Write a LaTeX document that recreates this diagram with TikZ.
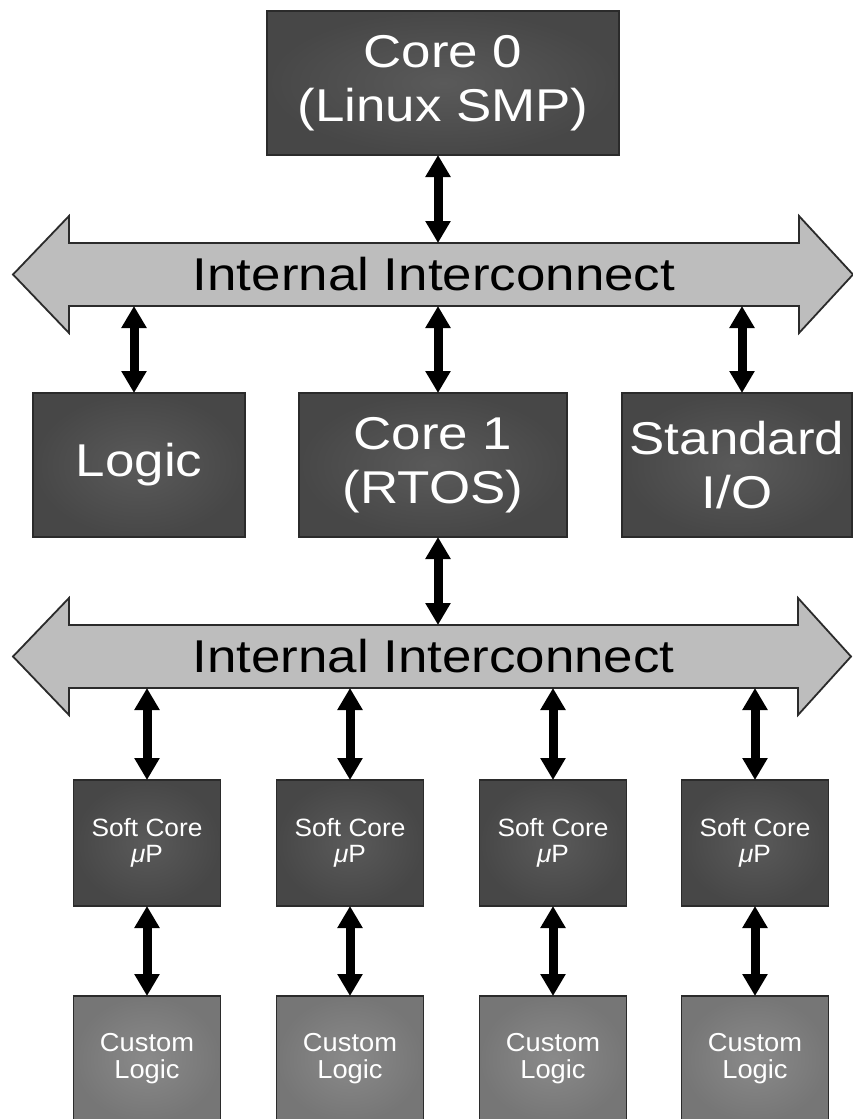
\documentclass[tikz,border=0pt]{standalone}
\usepackage{fontspec}
\setmainfont{Liberation Sans}
\newfontfamily\bigfont[FakeStretch=1.15]{Liberation Sans}
\newfontfamily\smallfont[FakeStretch=1.05]{Liberation Sans}
\usetikzlibrary{arrows.meta,calc,backgrounds}

\definecolor{boxin}{HTML}{5A5A5A}
\definecolor{boxout}{HTML}{474747}
\definecolor{custin}{HTML}{8A8A8A}
\definecolor{custout}{HTML}{767676}
\definecolor{edge}{HTML}{2B2B2B}
\definecolor{busgray}{HTML}{BDBDBD}

\tikzset{
  darkbox/.style={rectangle, draw=edge, line width=1.6pt, inner color=boxin, outer color=boxout,
    text=white, align=center, outer sep=0pt, font=\bigfont\fontsize{46}{54}\selectfont},
  softbox/.style={darkbox, minimum width=147pt, minimum height=126pt,
    font=\smallfont\fontsize{25}{25.5}\selectfont},
  custbox/.style={softbox, inner color=custin, outer color=custout,
    font=\smallfont\fontsize{26}{27}\selectfont},
  buslabel/.style={rectangle, draw=none, outer sep=0pt, inner sep=0pt,
    minimum width=729pt, minimum height=63pt, text=black,
    font=\bigfont\fontsize{46}{54}\selectfont},
  busbody/.style={fill=busgray, draw=edge, line width=1.8pt, line join=miter},
  link/.style={line width=9pt, draw=black,
    {Triangle[width=24pt,length=22pt]}-{Triangle[width=24pt,length=22pt]}},
}

\begin{document}
\begin{tikzpicture}[x=1pt,y=-1pt]
  \useasboundingbox (0,0) rectangle (853,1119);
  \clip (0,0) rectangle (853,1119);

  % top level: application core
  \node[darkbox, minimum width=352pt, minimum height=144pt] (core0) at (443,83) {Core 0\\(Linux SMP)};

  % first interconnect
  \node[buslabel, minimum width=730pt] (bus1) at (434,274.5) {Internal Interconnect};

  % middle row
  \node[darkbox, minimum width=212pt, minimum height=144pt] (logic) at (139,465) {Logic};
  \node[darkbox, minimum width=268pt, minimum height=144pt] (core1) at (433,465) {Core 1\\(RTOS)};
  \node[darkbox, minimum width=230pt, minimum height=144pt] (stdio) at (737,465) {Standard\\I/O};

  % second interconnect
  \node[buslabel] (bus2) at (433.5,656.5) {Internal Interconnect};

  % soft processors and their custom logic
  \foreach \i/\x in {1/147, 2/350, 3/553, 4/755} {
    \node[softbox] (sc\i) at (\x,843) {Soft Core\\{\itshape μ}P};
    \node[custbox] (cl\i) at (\x,1059) {Custom\\Logic};
  }

  % white page, then the bus bodies as double-headed block arrows behind their labels
  \begin{scope}[on background layer]
    \fill[white] (0,0) rectangle (853,1119);
    \foreach \b/\r in {bus1/54, bus2/53} {
      \path[busbody] (\b.north west) -- ++(0,-27) -- ($(\b.west)+(-56,0)$)
        -- ($(\b.south west)+(0,27)$) -- (\b.south west) -- (\b.south east)
        -- ++(0,27) -- ($(\b.east)+(\r,0)$) -- ($(\b.north east)+(0,-27)$)
        -- (\b.north east) -- cycle;
    }
  \end{scope}

  % connectors
  \coordinate (spine) at (438,0);
  \coordinate (leftdrop) at (134,0);
  \coordinate (rightdrop) at (742,0);
  \draw[link] (core0.south -| spine) -- (bus1.north -| spine);
  \draw[link] (bus1.south -| leftdrop) -- (logic.north -| leftdrop);
  \draw[link] (bus1.south -| spine) -- (core1.north -| spine);
  \draw[link] (bus1.south -| rightdrop) -- (stdio.north -| rightdrop);
  \draw[link] (core1.south -| spine) -- (bus2.north -| spine);
  \foreach \i in {1,2,3,4} {
    \draw[link] (bus2.south -| sc\i.north) -- (sc\i.north);
    \draw[link] (sc\i.south) -- (cl\i.north);
  }
\end{tikzpicture}
\end{document}
